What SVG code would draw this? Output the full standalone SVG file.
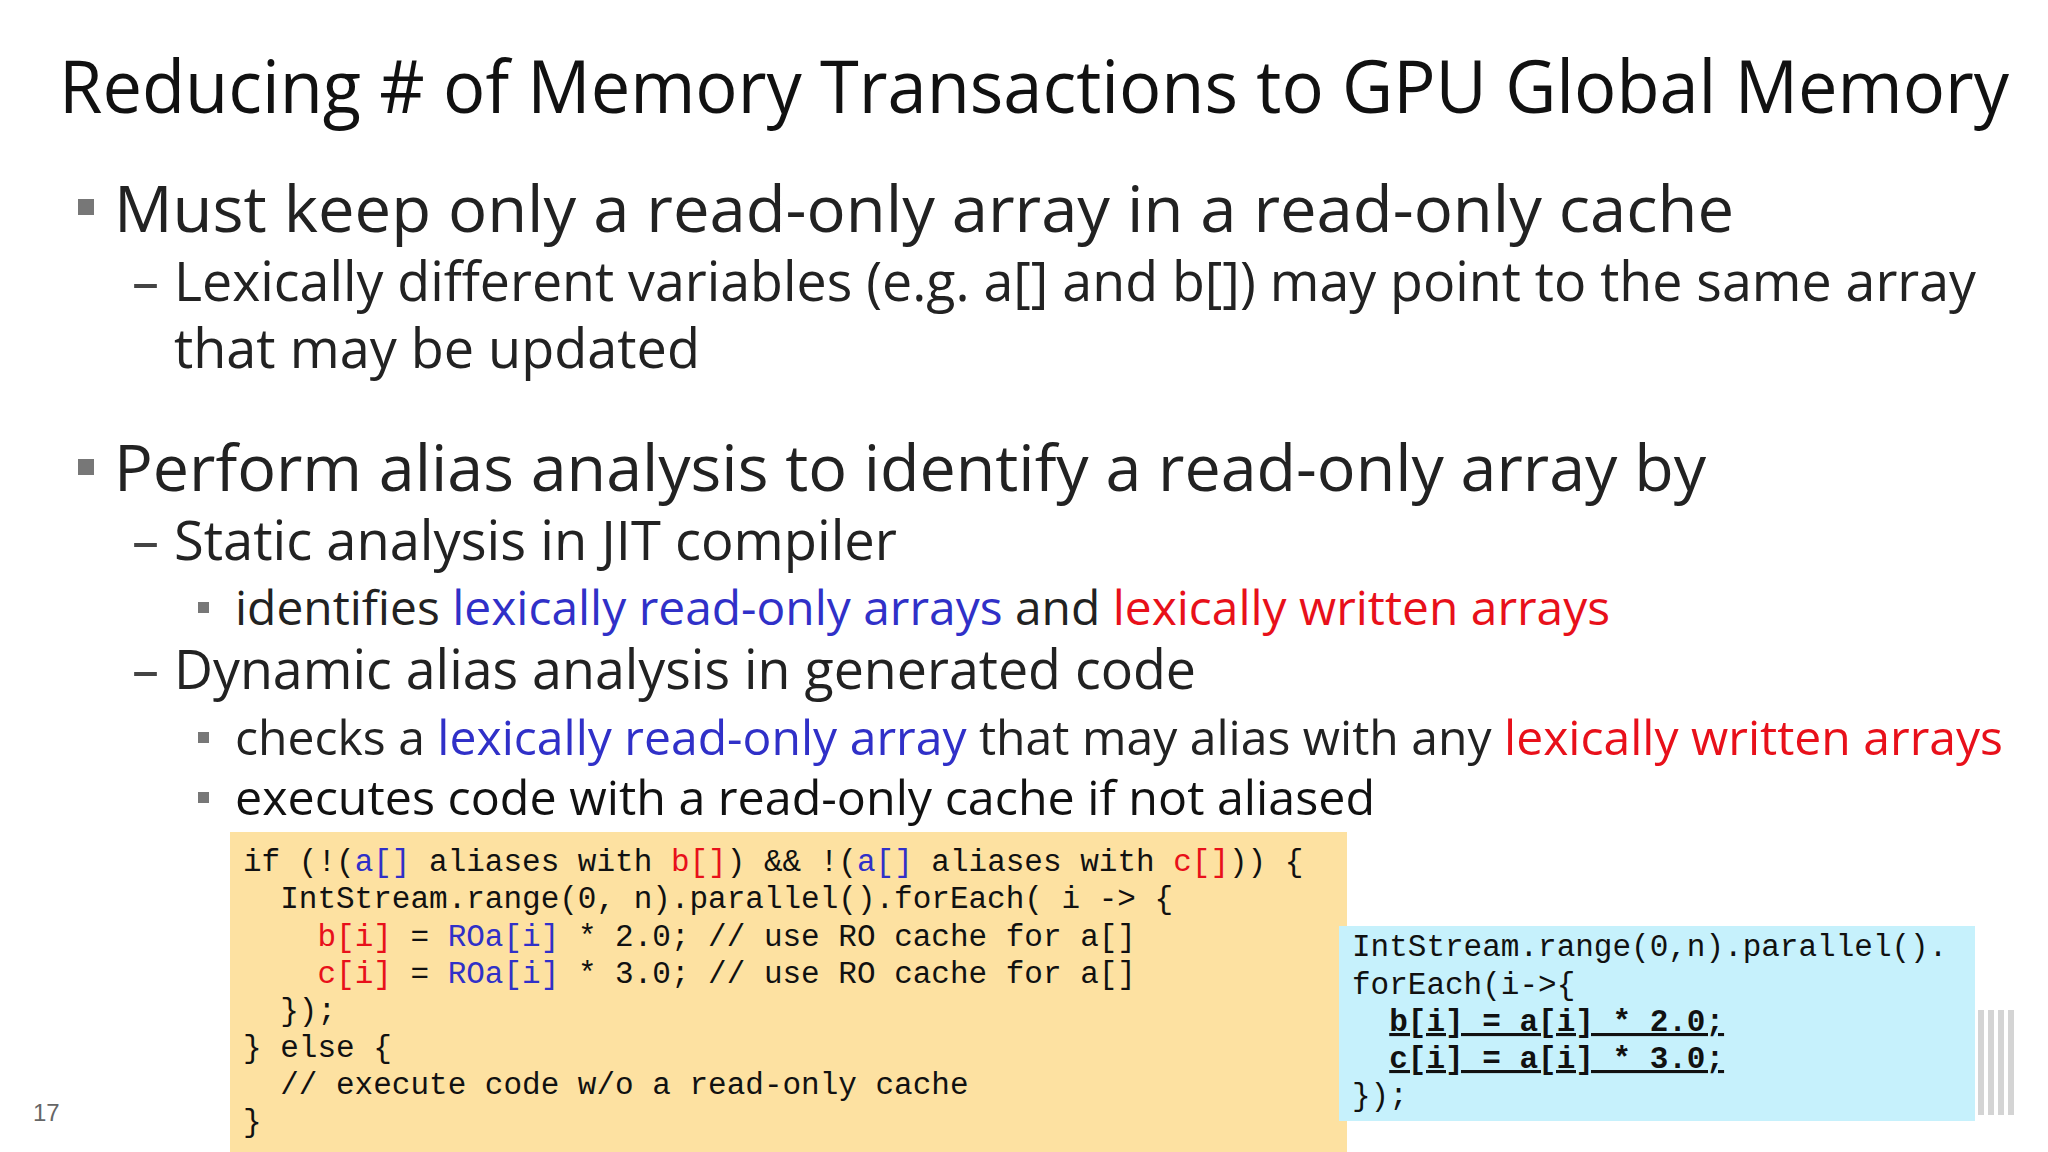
<svg xmlns="http://www.w3.org/2000/svg" width="2048" height="1152" viewBox="0 0 2048 1152">
<style>
.s{font-family:"Open Sans","Noto Sans",sans-serif;fill:#222}
.m{font-family:"Liberation Mono","DejaVu Sans Mono",monospace;font-size:31px;fill:#111}
.b{fill:#3030c8}.r{fill:#e8101a}
.sq{fill:#777}
.u{font-weight:bold;text-decoration:underline}
</style>
<rect width="2048" height="1152" fill="#fff"/>
<text class="s" x="59" y="113" font-size="74" textLength="1950" lengthAdjust="spacingAndGlyphs" style="fill:#111">Reducing # of Memory Transactions to GPU Global Memory</text>
<rect class="sq" x="78" y="199" width="16" height="16"/>
<text class="s" x="114" y="232" font-size="64" textLength="1620" lengthAdjust="spacingAndGlyphs">Must keep only a read-only array in a read-only cache</text>
<text class="s" x="132" y="301" font-size="54" style="fill:#444">–</text>
<text class="s" x="174" y="301" font-size="54" textLength="1802" lengthAdjust="spacingAndGlyphs">Lexically different variables (e.g. a[] and b[]) may point to the same array</text>
<text class="s" x="174" y="368" font-size="54">that may be updated</text>
<rect class="sq" x="78" y="459" width="16" height="16"/>
<text class="s" x="114" y="491" font-size="64" textLength="1592" lengthAdjust="spacingAndGlyphs">Perform alias analysis to identify a read-only array by</text>
<text class="s" x="132" y="560" font-size="54" style="fill:#444">–</text>
<text class="s" x="174" y="560" font-size="54" textLength="723" lengthAdjust="spacingAndGlyphs">Static analysis in JIT compiler</text>
<rect class="sq" x="198" y="602" width="11" height="11"/>
<text class="s" x="235" y="625" font-size="48" textLength="1375" lengthAdjust="spacingAndGlyphs">identifies <tspan class="b">lexically read-only arrays</tspan> and <tspan class="r">lexically written arrays</tspan></text>
<text class="s" x="132" y="689" font-size="54" style="fill:#444">–</text>
<text class="s" x="174" y="689" font-size="54" textLength="1022" lengthAdjust="spacingAndGlyphs">Dynamic alias analysis in generated code</text>
<rect class="sq" x="198" y="732" width="11" height="11"/>
<text class="s" x="235" y="755" font-size="48" textLength="1768" lengthAdjust="spacingAndGlyphs">checks a <tspan class="b">lexically read-only array</tspan> that may alias with any <tspan class="r">lexically written arrays</tspan></text>
<rect class="sq" x="198" y="792" width="11" height="11"/>
<text class="s" x="235" y="815" font-size="48" textLength="1140" lengthAdjust="spacingAndGlyphs" style="fill:#111">executes code with a read-only cache if not aliased</text>
<g id="orange">
<rect x="230" y="832" width="1117" height="320" fill="#fde1a1"/>
<text class="m" xml:space="preserve"><tspan x="243" y="871">if (!(<tspan class="b">a[]</tspan> aliases with <tspan class="r">b[]</tspan>) &amp;&amp; !(<tspan class="b">a[]</tspan> aliases with <tspan class="r">c[]</tspan>)) {</tspan><tspan x="243" y="908">  IntStream.range(0, n).parallel().forEach( i -&gt; {</tspan><tspan x="243" y="946">    <tspan class="r">b[i]</tspan> = <tspan class="b">ROa[i]</tspan> * 2.0; // use RO cache for a[]</tspan><tspan x="243" y="983">    <tspan class="r">c[i]</tspan> = <tspan class="b">ROa[i]</tspan> * 3.0; // use RO cache for a[]</tspan><tspan x="243" y="1020">  });</tspan><tspan x="243" y="1057">} else {</tspan><tspan x="243" y="1094">  // execute code w/o a read-only cache</tspan><tspan x="243" y="1131">}</tspan></text>
</g>
<g id="blue">
<rect x="1339" y="926" width="636" height="195" fill="#c6f1fc"/>
<text class="m" xml:space="preserve"><tspan x="1352" y="956">IntStream.range(0,n).parallel().</tspan><tspan x="1352" y="994">forEach(i-&gt;{</tspan><tspan x="1352" y="1031">  <tspan class="u">b[i] = a[i] * 2.0;</tspan></tspan><tspan x="1352" y="1068">  <tspan class="u">c[i] = a[i] * 3.0;</tspan></tspan><tspan x="1352" y="1105">});</tspan></text>
</g>
<g id="logo" fill="#d4d4d4">
<rect x="1978" y="1010" width="6" height="105"/><rect x="1988" y="1010" width="6" height="105"/><rect x="1998" y="1010" width="6" height="105"/><rect x="2008" y="1010" width="6" height="105"/>
</g>
<text x="33" y="1121" font-family="Liberation Sans,sans-serif" font-size="24" fill="#666">17</text>
</svg>
